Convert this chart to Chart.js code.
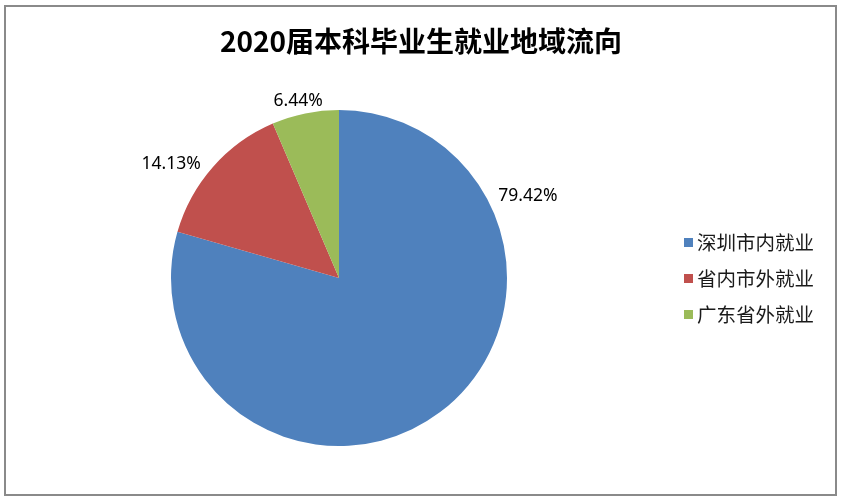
<!DOCTYPE html>
<html>
<head>
<meta charset="utf-8">
<script src="https://cdn.jsdelivr.net/npm/chart.js@4"></script>
<style>
  html, body { margin: 0; padding: 0; background: #fff; }
  #wrap { width: 843px; height: 500px; }
</style>
</head>
<body>
<div id="wrap"><canvas id="regionChart" width="843" height="500"></canvas></div>
<script>
const chartTitle = '2020届本科毕业生就业地域流向';
const regions = ['深圳市内就业', '省内市外就业', '广东省外就业'];
const shares = [79.42, 14.13, 6.44];
const shareLabels = ['79.42%', '14.13%', '6.44%'];
const sliceColors = ['#4F81BD', '#C0504D', '#9BBB59'];

// 标签位置：相对饼心的角度(度, 从正上方顺时针)和半径倍数
const labelSpots = [
    { angle: 66.5, dist: 1.226 },
    { angle: -55.8, dist: 1.208 },
    { angle: -13.0, dist: 1.083 }
];

const CJK = "'Noto Sans CJK SC', 'Noto Sans', sans-serif";

// 外框 + 标题 + 数据标签 + 图例
const decorPlugin = {
    id: 'decor',
    afterDraw(chart) {
        const { ctx } = chart;
        ctx.save();

        // 外框
        ctx.strokeStyle = '#8a8a8a';
        ctx.lineWidth = 2;
        ctx.strokeRect(5, 6, 831, 489);

        // 标题
        ctx.fillStyle = '#000';
        ctx.font = 'bold 28px ' + CJK;
        ctx.textAlign = 'center';
        ctx.textBaseline = 'middle';
        ctx.fillText(chartTitle, 421, 41);

        // 数据标签
        const arcs = chart.getDatasetMeta(0).data;
        ctx.font = "17.5px 'Noto Sans', sans-serif";
        arcs.forEach((arc, i) => {
            const spot = labelSpots[i];
            const a = spot.angle * Math.PI / 180;
            const r = arc.outerRadius * spot.dist;
            ctx.fillText(shareLabels[i], arc.x + Math.sin(a) * r, arc.y - Math.cos(a) * r);
        });

        // 图例
        ctx.font = '19.5px ' + CJK;
        ctx.textAlign = 'left';
        regions.forEach((name, i) => {
            const y = 243 + i * 36;
            ctx.fillStyle = sliceColors[i];
            ctx.fillRect(684, y - 5, 9, 9);
            ctx.fillStyle = '#1a1a1a';
            ctx.fillText(name, 697, y);
        });

        ctx.restore();
    }
};

new Chart(document.getElementById('regionChart'), {
    type: 'pie',
    data: {
        labels: regions,
        datasets: [{ data: shares, backgroundColor: sliceColors, borderWidth: 0 }]
    },
    options: {
        responsive: false,
        animation: false,
        events: [],
        layout: { padding: { left: 171, right: 336, top: 110, bottom: 54 } },
        plugins: { legend: { display: false }, tooltip: { enabled: false }, title: { display: false } }
    },
    plugins: [decorPlugin]
});
</script>
</body>
</html>
